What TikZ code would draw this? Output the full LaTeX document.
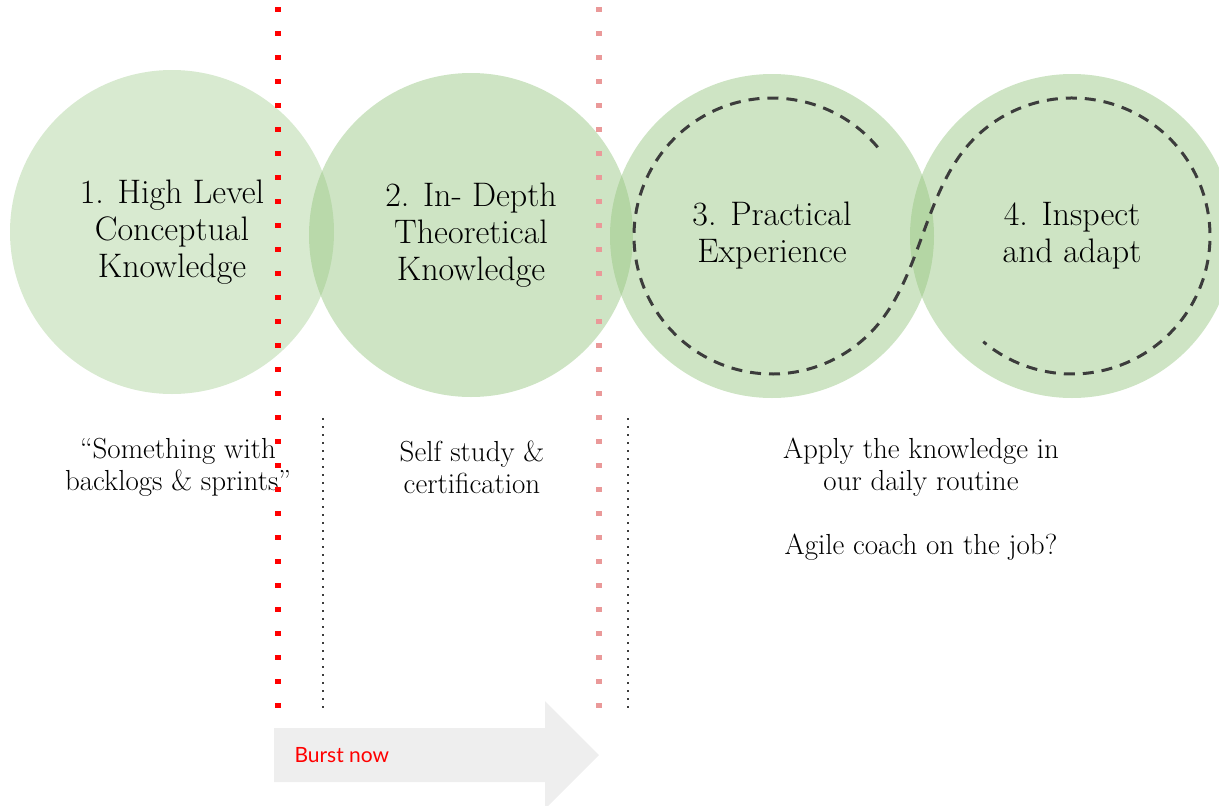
\documentclass[tikz,border=0pt]{standalone}
\usepackage{fontspec}
\setsansfont{Lato}
\usepackage{xcolor}
\usetikzlibrary{positioning,calc}

\definecolor{leafgreen}{RGB}{147,196,125}
\definecolor{burstred}{RGB}{255,0,0}
\definecolor{palered}{RGB}{234,153,153}
\definecolor{arrowgrey}{RGB}{238,238,238}
\definecolor{ringgrey}{RGB}{60,60,60}

\tikzset{
	stage/.style={circle, minimum size=324, inner sep=0, fill=leafgreen, fill opacity=0.45, text opacity=1, align=center, font=\fontsize{34}{37}\selectfont},
	note/.style={align=center, font=\fontsize{29}{32}\selectfont},
	milestone/.style={line width=6, dash pattern=on 5 off 19},
	divider/.style={line width=1.5, ringgrey, dash pattern=on 1.5 off 6.5},
	cycleline/.style={line width=3, ringgrey, dash pattern=on 11 off 8}
}

\begin{document}
\begin{tikzpicture}[x=1pt,y=1pt]
	\useasboundingbox (0,0) rectangle (1219,-806);
	\clip (0,0) rectangle (1219,-806);

	% the four stages
	\node[stage, fill opacity=0.36] (c1) at (172,-232) {1. High Level\\Conceptual\\Knowledge};
	\node[stage] (c2) at (471,-235) {2. In- Depth\\Theoretical\\Knowledge};
	\node[stage] (c3) at (772,-236) {3. Practical\\Experience};
	\node[stage] (c4) at (1072,-236) {4. Inspect\\and adapt};

	% loop through practice and inspection
	\draw[cycleline] (c3) ++(40:138) arc[start angle=40, end angle=320, radius=138]
		.. controls +(50:62) and +(235:62) .. ($(c4)+(145:138)$)
		arc[start angle=145, end angle=-130, radius=138];

	% notes below
	\node[note] (n1) at (178,-467) {``Something with\\backlogs \& sprints''};
	\node[note] (n2) at (472,-467) {Self study \&\\certification};
	\node[note] (n3) at (921,-467) {Apply the knowledge in\\our daily routine};
	\node[note] (n4) at (921,-547) {Agile coach on the job?};

	% time lines
	\draw[milestone, burstred] (278,-7) -- (278,-712);
	\draw[milestone, palered] (599,-7) -- (599,-712);
	\draw[divider] (323,-418) -- (323,-710);
	\draw[divider] (628,-418) -- (628,-710);

	% burst arrow
	\fill[arrowgrey] (274,-728) -- (545,-728) -- (545,-701) -- (599,-755) -- (545,-809) -- (545,-782) -- (274,-782) -- cycle;
	\node[anchor=west, text=burstred, font=\sffamily\fontsize{21}{24}\selectfont] (burst) at (291,-755) {Burst now};
\end{tikzpicture}
\end{document}
